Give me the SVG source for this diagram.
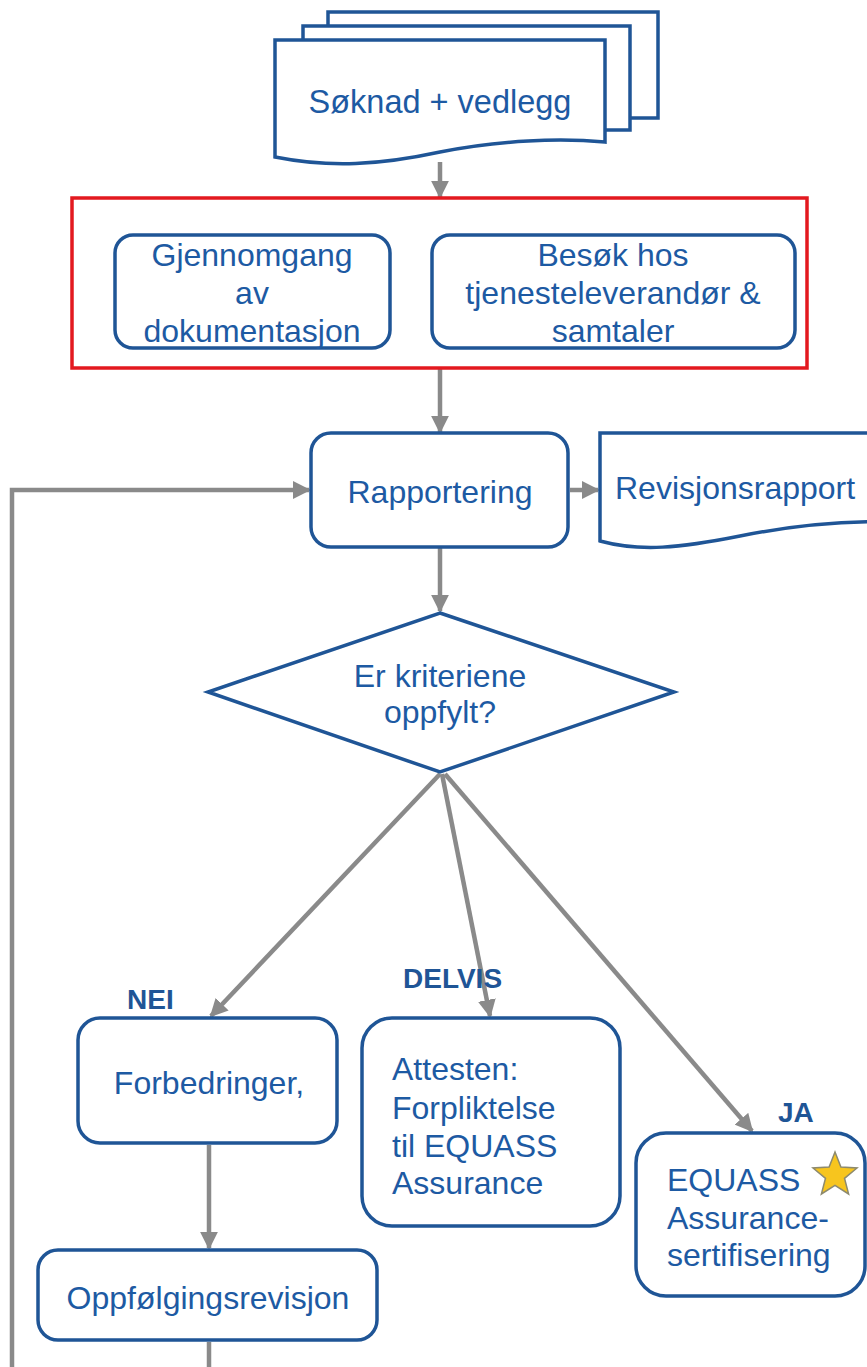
<svg xmlns="http://www.w3.org/2000/svg" width="867" height="1367" viewBox="0 0 867 1367">
<style>
.box{fill:#fff;stroke:#1f5596;stroke-width:3.5}
.t{font-family:"Liberation Sans",Arial,sans-serif;font-size:32px;fill:#1d5aa3}
.c{text-anchor:middle}
.lbl{font-family:"Liberation Sans",Arial,sans-serif;font-size:28px;font-weight:bold;fill:#1f5596}
.con{fill:none;stroke:#8a8a8a;stroke-width:4.5;marker-end:url(#ah)}
</style>
<defs>
<marker id="ah" markerWidth="4" markerHeight="4" refX="3.6" refY="2" orient="auto" markerUnits="strokeWidth">
<path d="M0,0 L4,2 L0,4 Z" fill="#8a8a8a"/>
</marker>
</defs>
<rect width="867" height="1367" fill="#fff"/>

<g id="connectors">
<path class="con" d="M440,162 V197"/>
<path class="con" d="M440,368 V432"/>
<path class="con" d="M570,490 H598"/>
<path class="con" d="M440,548 V611"/>
<path class="con" d="M440,774 L211,1016"/>
<path class="con" d="M442,774 L490,1016"/>
<path class="con" d="M445,774 L752,1131"/>
<path class="con" d="M209,1145 V1248"/>
<path class="con" style="marker-end:none" d="M209,1342 V1367"/>
<path class="con" d="M12,1367 V490 H309"/>
</g>

<g id="soknad">
<rect class="box" x="328" y="12" width="330" height="106"/>
<rect class="box" x="303" y="26" width="327" height="104"/>
<path class="box" d="M275,40 H605 V142 C560,138 500,140 440,152 C380,165 330,168 275,157 Z"/>
<text class="t c" x="440" y="113" style="font-size:32.5px">Søknad + vedlegg</text>
</g>

<g id="gruppe">
<rect x="72" y="198" width="735" height="170" fill="none" stroke="#e3191f" stroke-width="3.5"/>
</g>

<g id="gjennomgang">
<rect class="box" x="115" y="235" width="275" height="113" rx="18"/>
<text class="t c" x="252" y="266">Gjennomgang</text>
<text class="t c" x="252" y="304">av</text>
<text class="t c" x="252" y="342">dokumentasjon</text>
</g>

<g id="besok">
<rect class="box" x="432" y="235" width="363" height="113" rx="18"/>
<text class="t c" x="613" y="266">Besøk hos</text>
<text class="t c" x="613" y="304">tjenesteleverandør &amp;</text>
<text class="t c" x="613" y="342">samtaler</text>
</g>

<g id="rapportering">
<rect class="box" x="311" y="433" width="257" height="114" rx="20"/>
<text class="t c" x="440" y="503">Rapportering</text>
</g>

<g id="revisjonsrapport">
<path class="box" d="M600,433 H900 V522 C840,520 790,526 740,536 C680,548 640,552 600,541 Z"/>
<text class="t" x="615" y="499">Revisjonsrapport</text>
</g>

<g id="kriterier">
<polygon class="box" points="440,613 674,692 440,772 208,692"/>
<text class="t c" x="440" y="687">Er kriteriene</text>
<text class="t c" x="440" y="723">oppfylt?</text>
</g>

<g id="labels">
<text class="lbl" x="127" y="1009">NEI</text>
<text class="lbl" x="403" y="988">DELVIS</text>
<text class="lbl" x="778" y="1122">JA</text>
</g>

<g id="forbedringer">
<rect class="box" x="78" y="1018" width="259" height="125" rx="22"/>
<text class="t c" x="209" y="1094">Forbedringer,</text>
</g>

<g id="attesten">
<rect class="box" x="362" y="1018" width="258" height="208" rx="30"/>
<text class="t" x="392" y="1080">Attesten:</text>
<text class="t" x="392" y="1119">Forpliktelse</text>
<text class="t" x="392" y="1157">til EQUASS</text>
<text class="t" x="392" y="1194">Assurance</text>
</g>

<g id="equass">
<rect class="box" x="636" y="1133" width="229" height="163" rx="30"/>
<text class="t" x="667" y="1191">EQUASS</text>
<text class="t" x="667" y="1229">Assurance-</text>
<text class="t" x="667" y="1266">sertifisering</text>
<polygon points="835,1152 840.9,1167.1 857,1168 844.5,1178.3 848.6,1194 835,1185.3 821.4,1194 825.5,1178.3 813,1168 829.1,1167.1" fill="#f7c51e" stroke="#8d8a6e" stroke-width="1.5"/>
</g>

<g id="oppfolging">
<rect class="box" x="38" y="1250" width="339" height="90" rx="20"/>
<text class="t c" x="208" y="1309">Oppfølgingsrevisjon</text>
</g>
</svg>
